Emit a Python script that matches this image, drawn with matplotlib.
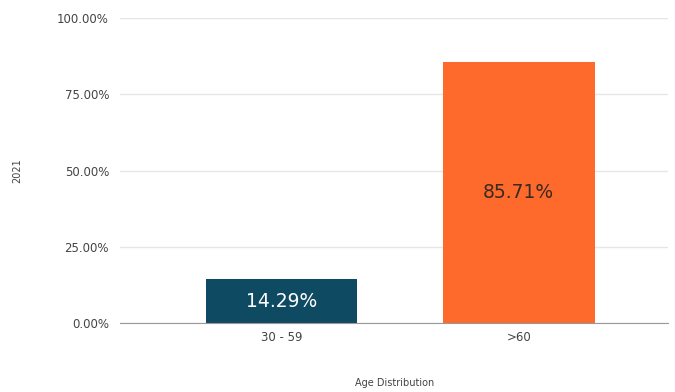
import matplotlib.pyplot as plt
from matplotlib.ticker import FuncFormatter

# Data
categories = ["30 - 59", ">60"]
values = [14.29, 85.71]
bar_colors = ["#0f4a63", "#fd6a2c"]
label_colors = ["white", "#3a2a20"]

fig = plt.figure(figsize=(6.75, 3.92), dpi=100)
ax = fig.add_axes([0.178, 0.176, 0.812, 0.778])

x = list(range(len(categories)))
bars = ax.bar(x, values, width=0.64, color=bar_colors, zorder=2)

for b, v, c in zip(bars, values, label_colors):
    ax.text(b.get_x() + b.get_width() / 2, v / 2,
            f"{v:.2f}%", ha="center", va="center", color=c, fontsize=13.5, zorder=3)

ax.set_xlim(-0.68, 1.63)
ax.set_ylim(0, 100)
ax.set_yticks([0, 25, 50, 75, 100])
ax.yaxis.set_major_formatter(FuncFormatter(lambda v, p: f"{v:.2f}%"))
ax.set_xticks(x)
ax.set_xticklabels(categories)
ax.tick_params(axis="y", length=0, labelsize=8.5, colors="#444444", pad=8)
ax.tick_params(axis="x", length=0, labelsize=8.5, colors="#444444", pad=6)

ax.grid(axis="y", color="#e6e6e6", linewidth=1, zorder=0)
for s in ["top", "right", "left"]:
    ax.spines[s].set_visible(False)
ax.spines["bottom"].set_color("#999999")
ax.spines["bottom"].set_zorder(4)

ax.set_xlabel("Age Distribution", fontsize=7, color="#444444", labelpad=24)
ax.set_ylabel("2021", fontsize=7, color="#444444", labelpad=25)

fig.savefig("out.png", dpi=100)
